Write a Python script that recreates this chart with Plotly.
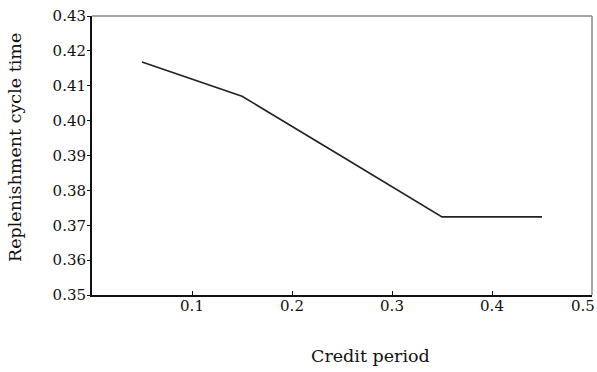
import plotly.graph_objects as go

credit_period = [0.05, 0.15, 0.25, 0.35, 0.45]
cycle_time = [0.4168, 0.4070, 0.3897, 0.3724, 0.3724]
x_ticks = [0.1, 0.2, 0.3, 0.4, 0.5]
x_labels = ["0.1", "0.2", "0.3", "0.4", ""]  # last label drawn separately (kept inside the page)
y_ticks = [0.35, 0.36, 0.37, 0.38, 0.39, 0.40, 0.41, 0.42, 0.43]

font = "DejaVu Serif, serif"

fig = go.Figure()
fig.add_trace(go.Scatter(x=credit_period, y=cycle_time, mode="lines",
                         line=dict(color="#222222", width=1.6), showlegend=False))

fig.update_layout(
    width=597, height=372,
    margin=dict(l=92, r=5, t=16, b=77),
    paper_bgcolor="white", plot_bgcolor="white",
    font=dict(family=font, size=15, color="#111111"),
)
fig.update_xaxes(
    range=[0, 0.5], tickvals=x_ticks, ticktext=x_labels,
    showgrid=False, zeroline=False, showline=True, linecolor="#111111", linewidth=2,
    ticks="inside", ticklen=4, tickcolor="#111111", automargin=False,
    ticklabelstandoff=-4,
)
fig.update_yaxes(
    range=[0.35, 0.43], tickvals=y_ticks, ticktext=[f"{v:.2f}" for v in y_ticks],
    showgrid=False, zeroline=False, showline=True, linecolor="#111111", linewidth=2,
    ticks="outside", ticklen=3, tickcolor="#111111", automargin=False,
    ticklabelstandoff=-2,
)
# last x tick label, right-aligned so it stays on the page
fig.add_annotation(x=x_ticks[-1], xref="x", y=0, yref="paper", text=f"{x_ticks[-1]:.1f}",
                   showarrow=False, xanchor="right", yanchor="top", xshift=5, yshift=0,
                   font=dict(size=15))
# axis titles
fig.add_annotation(x=0.556, y=-0.219, xref="paper", yref="paper", text="Credit period",
                   showarrow=False, xanchor="center", yanchor="middle", font=dict(size=17.5))
fig.add_annotation(x=-0.154, y=0.527, xref="paper", yref="paper", text="Replenishment cycle time",
                   showarrow=False, xanchor="center", yanchor="middle", textangle=-90,
                   font=dict(size=17.5))
fig.add_shape(type="line", xref="paper", yref="paper", x0=0, x1=1, y0=1, y1=1,
              line=dict(color="#888888", width=1.5))
fig.add_shape(type="line", xref="paper", yref="paper", x0=1, x1=1, y0=0, y1=1,
              line=dict(color="#888888", width=1.5))

fig.write_html("out.html")
